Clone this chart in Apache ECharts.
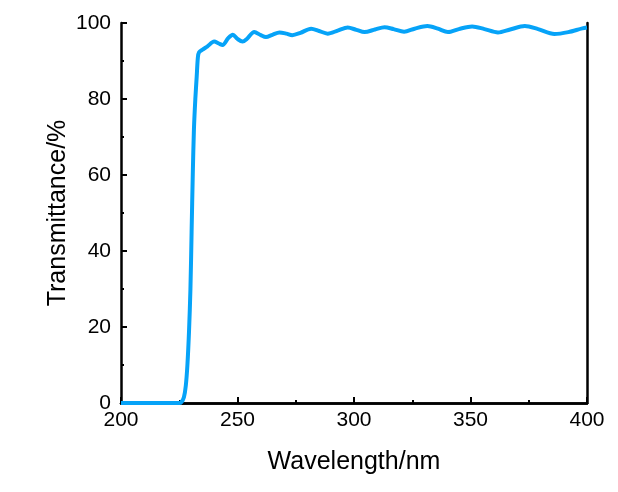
<!DOCTYPE html>
<html>
<head>
<meta charset="utf-8">
<script src="https://cdn.jsdelivr.net/npm/echarts@6/dist/echarts.min.js"></script>
<style>html,body{margin:0;padding:0;background:#fff;}#c{width:618px;height:492px;}</style>
</head>
<body>
<div id="c"></div>
<script>
const wavelength = [200,210,220,225,226,227,227.8,228.5,229.2,229.8,230.3,230.8,231.3,231.9,232.5,233,233.5,235,237,240,242,243.6,246,248,250,252.2,254,257.2,260,262.2,265,268,271,273.5,277,281.6,285,288.7,293,297.3,301,304.5,309,313.1,317,321.5,326,331.5,336,340.3,345,350.7,356,361.8,367,373.3,379,386,392,398,400];
const transmittance = [0,0,0,0,0.3,1.5,4.5,10,19,30,45,60,72,80,86,91,92.3,93,93.8,95.1,94.6,94.2,96,96.9,95.8,95.1,95.8,97.6,96.8,96.3,96.9,97.5,97.2,96.8,97.4,98.5,97.9,97.2,98,98.8,98.2,97.6,98.3,98.9,98.4,97.7,98.5,99.2,98.5,97.6,98.4,99.1,98.4,97.5,98.3,99.2,98.4,97.1,97.6,98.6,98.8];
const xTicks = [200,250,300,350,400];
const yTicks = [0,20,40,60,80,100];

const data = wavelength.map((w,i)=>[w, transmittance[i]]);
const font = 'Arial, "Liberation Sans", sans-serif';
const chart = echarts.init(document.getElementById('c'), null, {renderer:'canvas'});
const axisLine = {show:true, lineStyle:{color:'#000', width:2.5}};
chart.setOption({
  animation:false,
  grid:{left:121, right:31, top:23, bottom:89},
  xAxis:[{
    type:'value', min:xTicks[0], max:xTicks[xTicks.length-1], interval:50,
    name:'Wavelength/nm', nameLocation:'middle', nameGap:47, nameMoveOverlap:false,
    nameTextStyle:{fontFamily:font, fontSize:25, color:'#000'},
    axisLine:axisLine,
    axisTick:{show:true, inside:true, length:6, lineStyle:{color:'#000', width:2}},
    minorTick:{show:true, splitNumber:2, length:3, lineStyle:{color:'#000', width:2}},
    axisLabel:{fontFamily:font, fontSize:21, color:'#000', margin:7},
    splitLine:{show:false}
  },{
    type:'value', position:'top', min:200, max:400,
    axisLine:axisLine, axisTick:{show:false}, axisLabel:{show:false}, splitLine:{show:false}
  }],
  yAxis:[{
    type:'value', min:yTicks[0], max:yTicks[yTicks.length-1], interval:20,
    name:'Transmittance/%', nameLocation:'middle', nameGap:50, nameMoveOverlap:false,
    nameTextStyle:{fontFamily:font, fontSize:25, color:'#000'},
    axisLine:axisLine,
    axisTick:{show:true, inside:true, length:6, lineStyle:{color:'#000', width:2}},
    minorTick:{show:true, splitNumber:2, length:3, lineStyle:{color:'#000', width:2}},
    axisLabel:{fontFamily:font, fontSize:21, color:'#000', margin:10},
    splitLine:{show:false}
  },{
    type:'value', position:'right', min:0, max:100,
    axisLine:axisLine, axisTick:{show:false}, axisLabel:{show:false}, splitLine:{show:false}
  }],
  series:[{
    type:'line', data:data, showSymbol:false, smooth:0.3,
    lineStyle:{color:'#06a3f8', width:4},
    clip:false
  }]
});
</script>
</body>
</html>
